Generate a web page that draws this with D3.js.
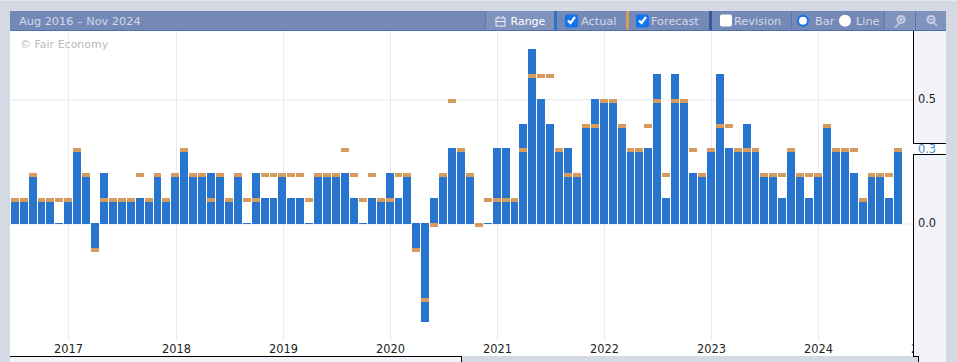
<!DOCTYPE html>
<html>
<head>
<meta charset="utf-8">
<script src="https://cdn.jsdelivr.net/npm/d3@7"></script>
<style>
html, body { margin: 0; padding: 0; background: #d5d9e3; overflow: hidden; }
svg { display: block; font-family: "DejaVu Sans", sans-serif; }
</style>
</head>
<body>
<svg id="chart" width="957" height="362"></svg>
<script>
const title = "Aug 2016 \u2013 Nov 2024";
const credit = "\u00a9 Fair Economy";
const lastValue = "0.3";

// one entry per month, oldest first
const actual = [
	0.1, 0.1, 0.2, 0.1, 0.1, 0.0, 0.1, 0.3, 0.2, -0.1,
	0.2, 0.1, 0.1, 0.1, 0.1, 0.1, 0.2, 0.1, 0.2, 0.3,
	0.2, 0.2, 0.2, 0.2, 0.1, 0.2, 0.0, 0.2, 0.1, 0.1,
	0.2, 0.1, 0.1, 0.0, 0.2, 0.2, 0.2, 0.2, 0.1, 0.0,
	0.1, 0.1, 0.2, 0.1, 0.2, -0.1, -0.4, 0.1, 0.2, 0.3,
	0.3, 0.2, 0.0, 0.0, 0.3, 0.3, 0.1, 0.4, 0.7, 0.5,
	0.4, 0.3, 0.3, 0.2, 0.4, 0.5, 0.5, 0.5, 0.4, 0.3,
	0.3, 0.3, 0.6, 0.1, 0.6, 0.5, 0.2, 0.2, 0.3, 0.6,
	0.3, 0.3, 0.4, 0.3, 0.2, 0.2, 0.1, 0.3, 0.2, 0.1,
	0.2, 0.4, 0.3, 0.3, 0.2, 0.1, 0.2, 0.2, 0.1, 0.3
];
const forecast = [
	0.1, 0.1, 0.2, 0.1, 0.1, 0.1, 0.1, 0.3, 0.2, -0.1,
	0.1, 0.1, 0.1, 0.1, 0.2, 0.1, 0.2, 0.1, 0.2, 0.3,
	0.2, 0.2, 0.1, 0.2, 0.1, 0.2, 0.1, 0.1, 0.2, 0.2,
	0.2, 0.2, 0.2, 0.1, 0.2, 0.2, 0.2, 0.3, 0.2, 0.1,
	0.2, 0.1, 0.1, 0.2, 0.2, -0.1, -0.3, 0.0, 0.2, 0.5,
	0.3, 0.2, 0.0, 0.1, 0.1, 0.1, 0.1, 0.3, 0.6, 0.6,
	0.6, 0.3, 0.2, 0.2, 0.4, 0.4, 0.5, 0.5, 0.4, 0.3,
	0.3, 0.4, 0.5, 0.2, 0.5, 0.5, 0.3, 0.2, 0.3, 0.4,
	0.4, 0.3, 0.3, 0.3, 0.2, 0.2, 0.2, 0.3, 0.2, 0.2,
	0.2, 0.4, 0.3, 0.3, 0.3, 0.1, 0.2, 0.2, 0.2, 0.3
];
const yTicks = [0, 0.5];
const yearTicks = [2017, 2018, 2019, 2020, 2021, 2022, 2023, 2024, 2025];

const blue = "#2875d0";
const orange = "#d59c5e";
const panel = "#f3f4f9";
const grid = "#e8e9f2";
const fontSize = 11.4;

const svg = d3.select("#chart");
const y = d3.scaleLinear().domain([-0.5, 0.5]).range([347.7, 99.3]);

function drawBackground() {
	svg.append("rect").attr("width", 957).attr("height", 1).attr("fill", "#e9e9ea");
	svg.append("rect").attr("x", 10).attr("y", 31).attr("width", 904).attr("height", 325).attr("fill", "#fff");
}

function drawChart() {
	// band domain runs on past the last bar so that the 2025 tick has a position
	const months = d3.timeMonth.range(new Date(2016, 6, 1), new Date(2025, 2, 1));
	const step = 8.925;
	const x = d3.scaleBand()
		.domain(months)
		.range([10.3, 10.3 + step * months.length])
		.paddingInner(0.1)
		.paddingOuter(0.05);
	const baseY = 224;

	const xAxis = d3.axisBottom(x)
		.tickValues(yearTicks.map(yr => months.find(m => m.getFullYear() == yr && m.getMonth() == 0)))
		.tickFormat(d3.timeFormat("%Y"))
		.tickSize(-310)
		.tickPadding(4);

	const gx = svg.append("g").attr("transform", "translate(0,341)").call(xAxis);
	gx.select(".domain").remove();
	gx.selectAll(".tick").attr("transform", d => "translate(" + (Math.floor(x(d) + x.bandwidth() / 2 + 0.65) + 0.5) + ",0)");
	gx.selectAll("line").attr("stroke", grid);
	gx.selectAll("text").attr("fill", "#222").attr("font-size", fontSize).attr("font-family", "DejaVu Sans");

	const yAxis = d3.axisRight(y).tickValues(yTicks).tickFormat("").tickSize(-903);
	const gy = svg.append("g").attr("transform", "translate(913,0)").call(yAxis);
	gy.select(".domain").remove();
	gy.selectAll("line").attr("stroke", grid);

	const rows = actual.map((a, i) => ({ month: months[i], next: months[i + 1], actual: a, forecast: forecast[i] }));
	const barX = d => Math.round(x(d.month));
	const barW = d => Math.min(8, Math.round(x(d.next)) - barX(d) - 1);

	svg.append("g").selectAll("rect")
		.data(rows)
		.enter()
		.append("rect")
		.attr("x", barX)
		.attr("y", d => d.actual > 0 ? Math.floor(y(d.actual)) : baseY - 1)
		.attr("width", barW)
		.attr("height", d => d.actual > 0 ? baseY - Math.floor(y(d.actual)) : (d.actual == 0 ? 1 : Math.floor(y(d.actual)) - baseY + 1))
		.attr("fill", blue);

	svg.append("g").selectAll("rect")
		.data(rows)
		.enter()
		.append("rect")
		.attr("x", barX)
		.attr("y", d => Math.floor(y(d.forecast)))
		.attr("width", barW)
		.attr("height", 4)
		.attr("fill", orange);

	svg.append("text").text(credit)
		.attr("x", 20).attr("y", 48)
		.attr("font-size", 11).attr("fill", "#bbb");
}

function drawRightPanel() {
	svg.append("rect").attr("x", 914).attr("y", 31).attr("width", 32).attr("height", 331).attr("fill", panel);
	svg.append("rect").attr("x", 913).attr("y", 143.5).attr("width", 33).attr("height", 11).attr("fill", "#fff");
	svg.append("rect").attr("x", 913).attr("y", 357).attr("width", 5).attr("height", 5).attr("fill", "#d5d9e3");

	svg.append("g").selectAll("text")
		.data(yTicks)
		.enter()
		.append("text")
		.text(d3.format(".1f"))
		.attr("x", 918)
		.attr("y", d => y(d) + 3.5)
		.attr("font-size", fontSize)
		.attr("fill", "#222");
	svg.append("text").text(lastValue)
		.attr("x", 918).attr("y", 153)
		.attr("font-size", fontSize).attr("fill", "#3f86d8");

	const lines = [
		[913.5, 31, 913.5, 143], [913, 143.5, 946, 143.5],
		[913.5, 154, 913.5, 357], [913, 154.5, 946, 154.5],
		[913, 356.5, 918.5, 356.5], [918.5, 356, 918.5, 362],
		[10, 356.5, 461.5, 356.5], [461.5, 356, 461.5, 362]
	];
	svg.append("g").selectAll("line")
		.data(lines)
		.enter()
		.append("line")
		.attr("x1", d => d[0]).attr("y1", d => d[1])
		.attr("x2", d => d[2]).attr("y2", d => d[3])
		.attr("stroke", "#000");

	svg.append("rect").attr("x", 10).attr("y", 357).attr("width", 451).attr("height", 5).attr("fill", panel);
	svg.append("rect").attr("x", 919).attr("y", 357).attr("width", 27).attr("height", 5).attr("fill", panel);
}

function checkbox(g, bx, checked) {
	g.append("rect").attr("x", bx).attr("y", 14.5).attr("width", checked ? 13 : 12).attr("height", checked ? 13 : 12).attr("rx", 2)
		.attr("fill", checked ? "#1173f0" : "#fff");
	if (checked) {
		g.append("path")
			.attr("d", `M${bx + 3},${20.5} L${bx + 5.5},${23} L${bx + 10},${17}`)
			.attr("fill", "none").attr("stroke", "#fff").attr("stroke-width", 2.2);
	}
}

function drawToolbar() {
	const g = svg.append("g");
	const labelColor = "#d3d9e8";

	g.append("rect").attr("x", 10).attr("y", 11).attr("width", 936).attr("height", 19).attr("fill", "#7489b5");
	g.append("rect").attr("x", 10).attr("y", 30).attr("width", 936).attr("height", 1).attr("fill", "#4a6fae");

	g.append("rect").attr("x", 486).attr("y", 11).attr("width", 68).attr("height", 19).attr("fill", "#8093bd");
	g.append("rect").attr("x", 885).attr("y", 11).attr("width", 61).attr("height", 19).attr("fill", "#8093bd");

	[[554, 3, "#2b74c9"], [626, 3, "#d59c5e"], [709, 3, "#34589a"]].forEach(d => {
		g.append("rect").attr("x", d[0]).attr("y", 11).attr("width", d[1]).attr("height", 19).attr("fill", d[2]);
	});
	[485, 791, 884, 915].forEach(sx => {
		g.append("rect").attr("x", sx).attr("y", 11).attr("width", 1).attr("height", 19).attr("fill", "#5e78ab");
	});

	const labels = [
		[title, 19, labelColor, 11.3], ["Actual", 581, labelColor, 11.3], ["Forecast", 651, labelColor, 11.3],
		["Revision", 734, labelColor, 11.3], ["Bar", 815, labelColor, 11.3], ["Line", 856, labelColor, 11.3],
		["Range", 510.5, "#fff", 11]
	];
	g.selectAll("text.lbl")
		.data(labels)
		.enter()
		.append("text")
		.attr("class", "lbl")
		.text(d => d[0])
		.attr("x", d => d[1])
		.attr("y", 25)
		.attr("font-size", d => d[3])
		.attr("fill", d => d[2]);

	checkbox(g, 565, true);
	checkbox(g, 636, true);
	checkbox(g, 720, false);

	g.append("circle").attr("cx", 803).attr("cy", 20.7).attr("r", 5).attr("fill", "#fff").attr("stroke", "#1173f0").attr("stroke-width", 2);
	g.append("circle").attr("cx", 845).attr("cy", 20.7).attr("r", 6).attr("fill", "#fff");

	// calendar icon on the range button
	g.append("rect").attr("x", 496).attr("y", 18).attr("width", 9).attr("height", 8).attr("fill", "none").attr("stroke", "#eef").attr("stroke-width", 1);
	g.append("path").attr("d", "M496,21.5H505M498,16V18M503,16V18").attr("stroke", "#eef").attr("fill", "none");

	// zoom in and out magnifiers
	[[901, true], [931, false]].forEach(d => {
		g.append("circle").attr("cx", d[0]).attr("cy", 19.5).attr("r", 3.5).attr("fill", "none").attr("stroke", "#c6cfe2").attr("stroke-width", 2);
		g.append("path").attr("d", d[1]
			? `M${d[0] - 2},23.5L${d[0] - 6},27.5M${d[0] - 2},19.5H${d[0] + 2}M${d[0]},17.5V21.5`
			: `M${d[0] + 2},22L${d[0] + 6},26M${d[0] - 2},19.5H${d[0] + 2}`)
			.attr("stroke", "#c6cfe2").attr("stroke-width", 1.5).attr("fill", "none");
	});
}

drawBackground();
drawChart();
drawRightPanel();
drawToolbar();
</script>
</body>
</html>
